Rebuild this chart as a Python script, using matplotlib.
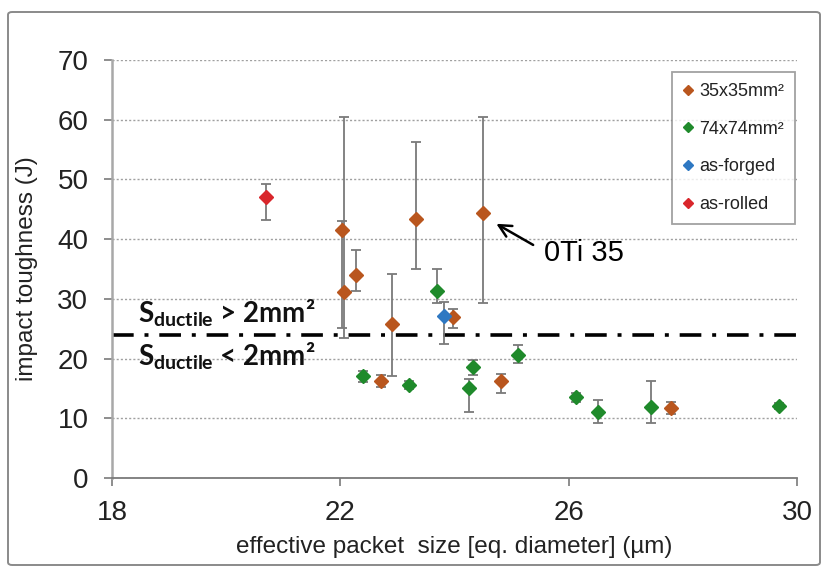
import matplotlib
matplotlib.use("Agg")
import matplotlib.pyplot as plt
from matplotlib.lines import Line2D
from matplotlib.patches import FancyBboxPatch
import numpy as np

plt.rcParams['font.family'] = ['Liberation Sans', 'DejaVu Sans']
plt.rcParams['mathtext.fontset'] = 'custom'
plt.rcParams['mathtext.rm'] = 'Lato'
plt.rcParams['mathtext.bf'] = 'Lato:bold'

# ---- data ----
b35_x = [22.03, 22.06, 22.28, 22.72, 22.91, 23.33, 23.97, 24.50, 24.82, 27.79]
b35_y = [41.6, 31.2, 34.0, 16.2, 25.8, 43.4, 26.9, 44.3, 16.3, 11.8]
b35_lo = [25.1, 23.4, 31.3, 15.2, 17.1, 35.0, 25.1, 29.3, 14.2, 10.8]
b35_hi = [43.0, 60.4, 38.1, 17.2, 34.1, 56.3, 28.3, 60.4, 17.5, 12.8]

g74_x = [22.40, 23.20, 23.70, 24.25, 24.33, 25.11, 26.13, 26.52, 27.44, 29.69]
g74_y = [17.0, 15.6, 31.3, 15.1, 18.6, 20.6, 13.5, 11.1, 11.9, 12.1]
g74_lo = [16.0, 14.9, 29.3, 11.1, 17.3, 19.2, 12.7, 9.2, 9.2, 11.6]
g74_hi = [18.0, 16.3, 35.0, 16.5, 19.8, 22.2, 14.2, 13.1, 16.2, 12.6]

forged_x = [23.82]
forged_y = [27.1]
forged_lo = [22.4]
forged_hi = [29.5]

rolled_x = [20.70]
rolled_y = [47.0]
rolled_lo = [43.2]
rolled_hi = [49.3]

labels = ['35x35mm²', '74x74mm²', 'as-forged', 'as-rolled']
colors = ['#B9561E', '#1F8A2B', '#2E78C2', '#D9262B']
threshold = 24.0
xticks = [18, 22, 26, 30]
yticks = [0, 10, 20, 30, 40, 50, 60, 70]

fig = plt.figure(figsize=(8.22, 5.67), dpi=100)
ax = fig.add_axes([112/822, 1-478/567, (797-112)/822, (478-60)/567])

# outer frame
fig.patches.append(FancyBboxPatch((8/822, 2/567), 812/822, 553/567,
                                  boxstyle="round,pad=0,rounding_size=0.005",
                                  transform=fig.transFigure, fill=False,
                                  edgecolor='#8a8a8a', linewidth=1.4))

series = [(b35_x, b35_y, b35_lo, b35_hi), (g74_x, g74_y, g74_lo, g74_hi),
          (forged_x, forged_y, forged_lo, forged_hi), (rolled_x, rolled_y, rolled_lo, rolled_hi)]

for (xs, ys, lo, hi), c in zip(series, colors):
    ys_a = np.array(ys); lo_a = np.array(lo); hi_a = np.array(hi)
    ax.errorbar(xs, ys_a, yerr=[ys_a - lo_a, hi_a - ys_a], fmt='none',
                ecolor='#7a7a7a', elinewidth=1.3, capsize=3.5, capthick=1.3, zorder=3)
    ax.plot(xs, ys, linestyle='none', marker='D', markersize=7.2,
            color=c, markeredgecolor=c, zorder=4)

ax.set_xlim(18, 30)
ax.set_ylim(0, 70)
ax.set_xticks(xticks)
ax.set_yticks(yticks)
ax.tick_params(axis='both', labelsize=20, colors='#7a7a7a', labelcolor='#222222',
               direction='out', length=6, width=1.2)
ax.tick_params(axis='y', pad=11)
ax.tick_params(axis='x', pad=10)
for s in ['top', 'right']:
    ax.spines[s].set_visible(False)
ax.spines['left'].set_color('#a8a8a8')
ax.spines['left'].set_linewidth(1.8)
ax.spines['bottom'].set_color('#7a7a7a')
ax.spines['bottom'].set_linewidth(1.3)
ax.yaxis.grid(True, linestyle=(0, (1.5, 1.5)), color='#a0a0a0', linewidth=1.0)
ax.set_axisbelow(True)

ax.set_ylabel('impact toughness (J)', fontsize=17.5, color='#222222', labelpad=14)
ax.set_xlabel('effective packet  size [eq. diameter] (µm)', fontsize=17.5,
              color='#222222', labelpad=7)

# threshold line
ax.axhline(threshold, color='black', linewidth=2.6,
           linestyle=(0, (6.0, 3.0, 1.1, 3.0)), zorder=2)

ax.text(18.45, 25.0, r'$\mathbf{S}_{\mathbf{ductile}}$ > 2mm²', fontsize=20,
        fontweight='bold', family='Lato', color='#111111', va='bottom', ha='left')
ax.text(18.45, 23.0, r'$\mathbf{S}_{\mathbf{ductile}}$ < 2mm²', fontsize=20,
        fontweight='bold', family='Lato', color='#111111', va='top', ha='left')

# annotation
ax.annotate('', xy=(24.69, 42.8), xytext=(25.42, 38.8),
            arrowprops=dict(arrowstyle='->', color='black', lw=1.8,
                            mutation_scale=22))
ax.text(25.56, 36.3, '0Ti 35', fontsize=21, color='black', ha='left', va='baseline')

handles = [Line2D([], [], linestyle='none', marker='D', markersize=5,
                  color=c, markeredgecolor=c) for c in colors]
leg = fig.legend(handles, labels, loc='upper right',
                 bbox_to_anchor=(795/822, 1-72/567), fontsize=13,
                 frameon=True, fancybox=False, edgecolor='#8a8a8a',
                 handlelength=0.6, handletextpad=0.3, labelspacing=1.15,
                 borderpad=0.6, borderaxespad=0)
leg.get_frame().set_linewidth(1.3)
for t in leg.get_texts():
    t.set_color('#222222')

fig.savefig('out.png', dpi=100)
